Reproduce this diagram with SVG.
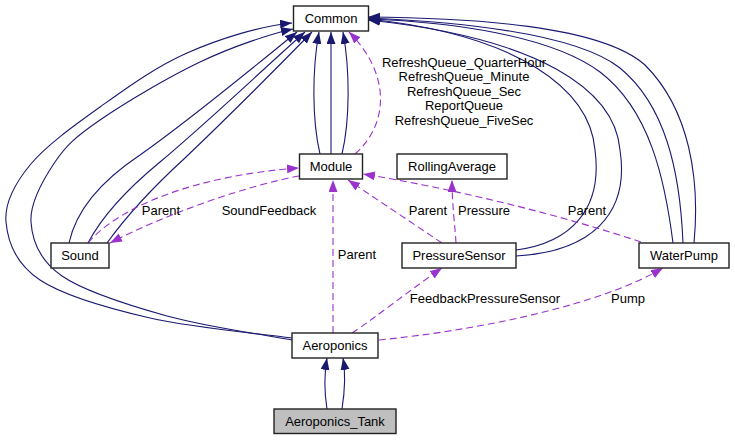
<svg xmlns="http://www.w3.org/2000/svg" width="735" height="440" viewBox="0 0 735 440">
<style>
.node rect{fill:#ffffff;stroke:#222222;stroke-width:1.4}
.node text,.lbl{font-family:"Liberation Sans",Arial,sans-serif;font-size:13px;fill:#000000;text-anchor:middle}
.s{fill:none;stroke:#191970;stroke-width:1.1;marker-end:url(#an)}
.d{fill:none;stroke:#9a32cd;stroke-width:1.1;stroke-dasharray:7,4;marker-end:url(#ap)}
</style>
<defs>
<marker id="an" markerUnits="userSpaceOnUse" markerWidth="14" markerHeight="10" refX="12" refY="4.5" orient="auto">
<path d="M0,0 L12,4.5 L0,9 z" fill="#191970"/>
</marker>
<marker id="ap" markerUnits="userSpaceOnUse" markerWidth="14" markerHeight="10" refX="12" refY="4.5" orient="auto">
<path d="M0,0 L12,4.5 L0,9 z" fill="#9a32cd"/>
</marker>
</defs>
<rect width="735" height="440" fill="#ffffff"/>
<g id="connectors">
<path class="s" d="M292,338 C268.3,334.7 192,327.7 150,318 C108,308.3 64,296 40,280 C16,264 7.7,241.2 6,222 C4.3,202.8 14.3,184.2 30,165 C45.7,145.8 73.8,125.7 100,107 C126.2,88.3 155.3,67 187,53 C218.7,39 260,26 292,23"/>
<path class="s" d="M292,340 C271.2,336 205.3,326.7 167,316 C128.7,305.3 84.7,291.7 62,276 C39.3,260.3 32.2,241 31,222 C29.8,203 43.5,179 55,162 C66.5,145 75.8,136.7 100,120 C124.2,103.3 167.8,77.3 200,62 C232.2,46.7 270,34 293,29"/>
<path class="s" d="M69,243 C75,215 95,185 140,155 C190,120 250,70 297,32"/>
<path class="s" d="M88,243 C100,220 120,195 160,162 C210,120 260,72 305,32"/>
<path class="s" d="M107,243 C125,218 150,190 185,158 C230,115 270,75 312,32"/>
<path class="s" d="M320,154 C312,120 312,70 319,32"/>
<path class="s" d="M331,154 L331,32"/>
<path class="s" d="M342,154 C350,120 350,70 343,32"/>
<path class="s" d="M516,250 C570,243 603,210 595,150 C590,90 520,35 368,19"/>
<path class="s" d="M516,256 C590,252 630,215 620,150 C615,90 540,38 368,20"/>
<path class="s" d="M673,243 C665,180 650,110 600,72 C550,35 450,22 368,19"/>
<path class="s" d="M683,243 C680,170 665,105 620,68 C575,33 460,22 368,18"/>
<path class="s" d="M694,243 C700,180 690,110 645,65 C600,25 470,18 368,17"/>
<path class="s" d="M327,409 C324,390 324,375 327,358"/>
<path class="s" d="M342,409 C345,390 346,375 343,358"/>
<path class="d" d="M355,154 C388,125 392,75 349,32"/>
<path class="d" d="M299,176 C250,185 170,212 110,243"/>
<path class="d" d="M88,243 C120,205 200,175 299,168"/>
<path class="d" d="M442,243 L348,180"/>
<path class="d" d="M456,243 C455,225 452,205 452,180"/>
<path class="d" d="M641,242 C560,215 460,190 363,174"/>
<path class="d" d="M333,333 L333,180"/>
<path class="d" d="M352,333 C375,318 410,290 442,268"/>
<path class="d" d="M379,340 C480,330 600,305 663,268"/>
</g>
<g id="labels">
<text class="lbl" x="464" y="66.5">RefreshQueue_QuarterHour</text>
<text class="lbl" x="464" y="81">RefreshQueue_Minute</text>
<text class="lbl" x="464" y="95.5">RefreshQueue_Sec</text>
<text class="lbl" x="464" y="110">ReportQueue</text>
<text class="lbl" x="464" y="124.5">RefreshQueue_FiveSec</text>
<text class="lbl" x="161" y="215">Parent</text>
<text class="lbl" x="269" y="215">SoundFeedback</text>
<text class="lbl" x="428" y="215">Parent</text>
<text class="lbl" x="484" y="215">Pressure</text>
<text class="lbl" x="587" y="215">Parent</text>
<text class="lbl" x="357" y="259">Parent</text>
<text class="lbl" x="485" y="303">FeedbackPressureSensor</text>
<text class="lbl" x="628" y="303">Pump</text>
</g>
<g id="node-common" class="node"><rect x="293.5" y="6" width="75" height="25"/><text x="331" y="23">Common</text></g>
<g id="node-module" class="node"><rect x="299.5" y="154" width="63" height="25"/><text x="331" y="171">Module</text></g>
<g id="node-rollingaverage" class="node"><rect x="397" y="154" width="110" height="25"/><text x="452" y="171">RollingAverage</text></g>
<g id="node-sound" class="node"><rect x="51" y="243" width="58" height="25"/><text x="80" y="260">Sound</text></g>
<g id="node-pressuresensor" class="node"><rect x="402" y="243" width="114" height="25"/><text x="459" y="260">PressureSensor</text></g>
<g id="node-waterpump" class="node"><rect x="639" y="243" width="90" height="25"/><text x="684" y="260">WaterPump</text></g>
<g id="node-aeroponics" class="node"><rect x="292" y="333" width="86" height="25"/><text x="335" y="350">Aeroponics</text></g>
<g id="node-aeroponics-tank" class="node"><rect x="274" y="409" width="122" height="24.5" style="fill:#bfbfbf"/><text x="335" y="426">Aeroponics_Tank</text></g>
</svg>
